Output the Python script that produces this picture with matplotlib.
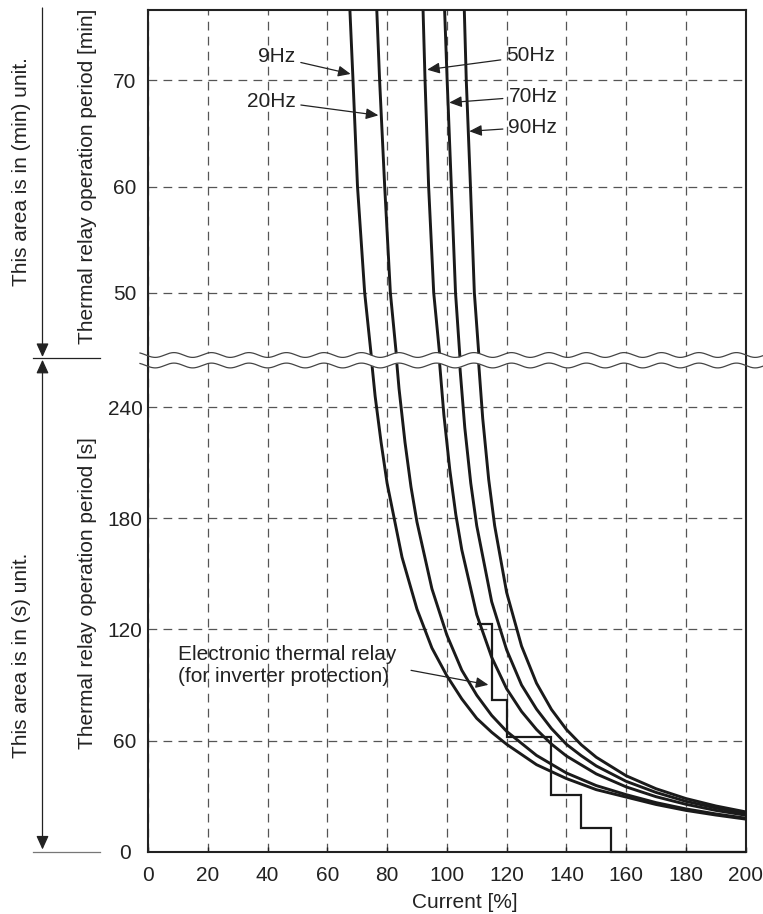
import numpy as np
import matplotlib
matplotlib.use('Agg')
import matplotlib.pyplot as plt

plt.rcParams['font.family'] = ['Liberation Sans', 'DejaVu Sans']
plt.rcParams['font.size'] = 15

INK = '#222222'
GRID = '#555555'

# upper area (minutes): current [%] read at each time
t_upper = [77, 70, 60, 50, 43]
cur_9hz_up = [67.5, 68.6, 70.1, 72.5, 75.1]
cur_20hz_up = [76.5, 77.5, 79.2, 81.1, 83.5]
cur_50hz_up = [92.0, 92.7, 93.9, 95.6, 98.0]
cur_70hz_up = [99.2, 100.1, 101.5, 102.9, 104.6]
cur_90hz_up = [105.8, 106.5, 107.9, 109.2, 111.0]

# lower area (seconds)
cur_9hz = [74, 76, 78, 80, 85, 90, 95, 100, 105, 110, 115, 120, 130, 140, 150, 160, 170, 180, 190, 200]
t_9hz = [278, 246, 221, 199, 159, 131, 110, 95, 82.5, 72, 64.5, 58, 47, 39.5, 33.5, 29.5, 25.5, 22.3, 19.8, 17.6]
cur_20hz = [82, 84, 86, 88, 90, 95, 100, 105, 110, 115, 120, 130, 140, 150, 160, 170, 180, 190, 200]
t_20hz = [287, 250, 221, 197, 178, 142, 117, 98, 84.5, 73.6, 65, 52, 42.5, 35.7, 30.8, 26.5, 23.1, 20.4, 18.1]
cur_50hz = [97, 99, 101, 103, 105, 110, 115, 120, 125, 130, 135, 140, 150, 160, 170, 180, 190, 200]
t_50hz = [275, 236, 206, 182, 163, 128, 105, 88, 75.7, 66, 58.1, 51.7, 42, 35, 29.7, 25.6, 22.3, 19.7]
cur_70hz = [104, 106, 108, 110, 115, 120, 125, 130, 135, 140, 145, 150, 160, 170, 180, 190, 200]
t_70hz = [269, 229, 199, 176, 135, 109, 90, 77, 66.5, 58, 51.8, 46.3, 38, 32, 27.2, 23.6, 20.7]
cur_90hz = [110, 112, 114, 116, 120, 125, 130, 135, 140, 145, 150, 160, 170, 180, 190, 200]
t_90hz = [278, 234, 201, 176, 140, 111, 91, 76.8, 66, 57.7, 51, 41, 34, 28.7, 24.7, 21.5]

# electronic thermal relay steps
step_edges = [110, 115, 120, 135, 145, 155, 200]
step_levels = [123, 82, 62, 30.5, 13, 0]

fig = plt.figure(figsize=(7.63, 9.14), dpi=100)
W, H = 763, 914


def px_axes(x0, y0, x1, y1):
    return fig.add_axes([x0 / W, 1 - y1 / H, (x1 - x0) / W, (y1 - y0) / H])


ax_up = px_axes(148, 9.5, 745.7, 360)
ax_lo = px_axes(148, 360, 745.7, 851.7)

curves_up = [cur_9hz_up, cur_20hz_up, cur_50hz_up, cur_70hz_up, cur_90hz_up]
for c in curves_up:
    ax_up.plot(c, t_upper, color='#1a1a1a', lw=2.1, zorder=3)

for c, t in [(cur_9hz, t_9hz), (cur_20hz, t_20hz), (cur_50hz, t_50hz),
             (cur_70hz, t_70hz), (cur_90hz, t_90hz)]:
    ax_lo.plot(c, t, color='#1a1a1a', lw=2.1, zorder=3)

ax_lo.stairs(step_levels, step_edges, baseline=None, color='#1a1a1a', lw=1.6,
             zorder=4, clip_on=False)

ax_up.set_xlim(0, 200)
ax_up.set_ylim(43.66, 76.67)
ax_lo.set_xlim(0, 200)
ax_lo.set_ylim(0, 265.5)

for ax in (ax_up, ax_lo):
    ax.set_xticks(np.arange(0, 201, 20))
    ax.grid(True, color=GRID, lw=0.9, dashes=(7, 5))
    ax.set_axisbelow(True)
    for s in ax.spines.values():
        s.set_linewidth(1.5)
        s.set_color(INK)
    ax.tick_params(axis='y', length=0, pad=16.6, labelsize=15, labelcolor=INK)
    for lab in ax.get_yticklabels():
        lab.set_ha('center')

ax_up.set_yticks([50, 60, 70])
ax_up.spines['bottom'].set_visible(False)
ax_up.tick_params(axis='x', length=0, labelbottom=False)
for lab in ax_up.get_yticklabels():
    lab.set_ha('center')

ax_lo.set_yticks([0, 60, 120, 180, 240])
ax_lo.spines['top'].set_visible(False)
ax_lo.tick_params(axis='x', direction='in', length=3.5, width=1, color=INK,
                  pad=10, labelsize=15, labelcolor=INK)
for lab in ax_lo.get_yticklabels():
    lab.set_ha('center')

arrow = dict(arrowstyle='-|>,head_length=0.5,head_width=0.22', color=INK,
             lw=0.9, mutation_scale=15, shrinkB=0)

# frequency labels
ax_up.annotate('9Hz', xy=(67.8, 70.6), xytext=(49.3, 72.2), ha='right',
               va='center', color=INK, arrowprops=arrow)
ax_up.annotate('20Hz', xy=(77.1, 66.7), xytext=(49.3, 68.05), ha='right',
               va='center', color=INK, arrowprops=arrow)
ax_up.annotate('50Hz', xy=(93.4, 71.0), xytext=(119.9, 72.3), ha='left',
               va='center', color=INK, arrowprops=arrow)
ax_up.annotate('70Hz', xy=(100.8, 67.9), xytext=(120.6, 68.5), ha='left',
               va='center', color=INK, arrowprops=arrow)
ax_up.annotate('90Hz', xy=(107.5, 65.2), xytext=(120.6, 65.6), ha='left',
               va='center', color=INK, arrowprops=arrow)

ax_lo.text(10.05, 100.6, 'Electronic thermal relay\n(for inverter protection)',
           ha='left', va='center', color=INK, linespacing=1.2)
ax_lo.annotate('', xy=(113.9, 90.1), xytext=(87.1, 98.2), arrowprops=arrow)

# overlay in pixel coordinates for the break and side notes
ov = fig.add_axes([0, 0, 1, 1], zorder=10)
ov.set_xlim(0, W)
ov.set_ylim(H, 0)
ov.set_axis_off()
ov.patch.set_visible(False)

xw = np.linspace(140, W, 800)
ph = 2 * np.pi * (xw - 267.7) / 37.5 + np.pi / 2
y_top = 355 + 2.4 * np.sin(ph)
y_bot = y_top + 10.5
inside = (xw > 149.2) & (xw < 744.6)
ov.fill_between(xw[inside], y_top[inside], y_bot[inside], color='white', lw=0, zorder=1)
ov.plot(xw, y_top, color='#444444', lw=0.9, zorder=2)
ov.plot(xw, y_bot, color='#444444', lw=0.9, zorder=2)

side = dict(arrowstyle='-|>,head_length=0.55,head_width=0.25', color=INK,
            lw=0.9, mutation_scale=15, shrinkA=0, shrinkB=0)
ov.annotate('', xy=(42.5, 357), xytext=(42.5, 8), arrowprops=side)
side2 = dict(side, arrowstyle='<|-|>,head_length=0.55,head_width=0.25')
ov.annotate('', xy=(42.5, 849.5), xytext=(42.5, 359.8), arrowprops=side2)
ov.plot([33, 100], [358.3, 358.3], color=INK, lw=0.9)
ov.plot([33, 100], [851.7, 851.7], color='#777777', lw=0.9)

ov.text(22, 172, 'This area is in (min) unit.', rotation=90, ha='center',
        va='center', color=INK)
ov.text(22, 655, 'This area is in (s) unit.', rotation=90, ha='center',
        va='center', color=INK)
ov.text(88, 176, 'Thermal relay operation period [min]', rotation=90,
        ha='center', va='center', color=INK)
ov.text(88, 593, 'Thermal relay operation period [s]', rotation=90,
        ha='center', va='center', color=INK)
ov.text(465, 903, 'Current [%]', ha='center', va='center', color=INK)

fig.savefig('out.png', dpi=100)
